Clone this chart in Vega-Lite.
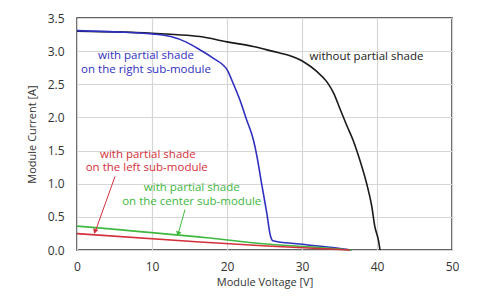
{
  "$schema": "https://vega.github.io/schema/vega-lite/v6.json",
  "width": 375,
  "height": 232,
  "autosize": {"type": "none"},
  "padding": {"left": 77, "top": 18, "right": 41, "bottom": 54},
  "background": "white",
  "config": {
    "view": {"stroke": "#333333", "strokeWidth": 1.5},
    "font": "Open Sans",
    "axis": {
      "grid": true, "gridColor": "#d6d6d6", "gridWidth": 1.2,
      "ticks": false, "tickSize": 0, "domain": false,
      "labelOverlap": false, "labelFlush": false,
      "labelFont": "Open Sans", "labelFontSize": 12, "labelColor": "#333333",
      "titleFont": "Open Sans", "titleFontSize": 11, "titleFontWeight": "normal", "titleColor": "#333333"
    }
  },
  "datasets": {
    "curves": [
      {"series": "none", "v": 0, "i": 3.30},
      {"series": "none", "v": 5, "i": 3.29},
      {"series": "none", "v": 10, "i": 3.27},
      {"series": "none", "v": 13, "i": 3.25},
      {"series": "none", "v": 16.4, "i": 3.22},
      {"series": "none", "v": 20, "i": 3.14},
      {"series": "none", "v": 23.5, "i": 3.07},
      {"series": "none", "v": 26, "i": 3.0},
      {"series": "none", "v": 28.4, "i": 2.93},
      {"series": "none", "v": 30.2, "i": 2.84},
      {"series": "none", "v": 32.0, "i": 2.69},
      {"series": "none", "v": 33.3, "i": 2.54},
      {"series": "none", "v": 34.2, "i": 2.37},
      {"series": "none", "v": 35.1, "i": 2.12},
      {"series": "none", "v": 36.0, "i": 1.87},
      {"series": "none", "v": 36.8, "i": 1.66},
      {"series": "none", "v": 37.7, "i": 1.36},
      {"series": "none", "v": 38.6, "i": 1.01},
      {"series": "none", "v": 39.3, "i": 0.66},
      {"series": "none", "v": 39.7, "i": 0.36},
      {"series": "none", "v": 40.2, "i": 0.14},
      {"series": "none", "v": 40.4, "i": 0},
      {"series": "right", "v": 0, "i": 3.31},
      {"series": "right", "v": 5, "i": 3.29},
      {"series": "right", "v": 10, "i": 3.26},
      {"series": "right", "v": 12.5, "i": 3.22},
      {"series": "right", "v": 14.5, "i": 3.14},
      {"series": "right", "v": 16.4, "i": 3.02},
      {"series": "right", "v": 18.2, "i": 2.89},
      {"series": "right", "v": 20.0, "i": 2.72},
      {"series": "right", "v": 20.8, "i": 2.52},
      {"series": "right", "v": 21.7, "i": 2.27},
      {"series": "right", "v": 22.6, "i": 1.97},
      {"series": "right", "v": 23.5, "i": 1.67},
      {"series": "right", "v": 24.0, "i": 1.41},
      {"series": "right", "v": 24.6, "i": 1.01},
      {"series": "right", "v": 25.3, "i": 0.56},
      {"series": "right", "v": 25.8, "i": 0.21},
      {"series": "right", "v": 26.1, "i": 0.14},
      {"series": "right", "v": 29.7, "i": 0.09},
      {"series": "right", "v": 34.1, "i": 0.036},
      {"series": "right", "v": 36.6, "i": 0},
      {"series": "center", "v": 0, "i": 0.36},
      {"series": "center", "v": 17.7, "i": 0.18},
      {"series": "center", "v": 25.3, "i": 0.09},
      {"series": "center", "v": 32, "i": 0.04},
      {"series": "center", "v": 36.6, "i": 0},
      {"series": "left", "v": 0, "i": 0.247},
      {"series": "left", "v": 16.4, "i": 0.12},
      {"series": "left", "v": 25.3, "i": 0.06},
      {"series": "left", "v": 36.4, "i": 0}
    ],
    "labels": [
      {"series": "right", "v": 9.2, "i": 2.93, "text": "with partial shade"},
      {"series": "right", "v": 9.2, "i": 2.72, "text": "on the right sub-module"},
      {"series": "none", "v": 38.6, "i": 2.91, "text": "without partial shade"},
      {"series": "left", "v": 9.45, "i": 1.44, "text": "with partial shade"},
      {"series": "left", "v": 9.3, "i": 1.23, "text": "on the left sub-module"},
      {"series": "center", "v": 15.3, "i": 0.93, "text": "with partial shade"},
      {"series": "center", "v": 15.3, "i": 0.72, "text": "on the center sub-module"}
    ],
    "arrows": [
      {"series": "left", "v": 5.07, "i": 1.11, "v2": 2.5, "i2": 0.3},
      {"series": "center", "v": 14.4, "i": 0.61, "v2": 13.55, "i2": 0.27}
    ],
    "heads": [
      {"series": "left", "v": 2.4, "i": 0.28},
      {"series": "center", "v": 13.48, "i": 0.245}
    ]
  },
  "layer": [
    {
      "data": {"name": "curves"},
      "mark": {"type": "line", "strokeWidth": 1.6, "interpolate": "monotone"},
      "encoding": {
        "x": {"field": "v", "type": "quantitative", "scale": {"domain": [0, 50], "nice": false}, "axis": {"values": [0, 10, 20, 30, 40, 50], "tickCount": 12, "title": "Module Voltage [V]", "labelPadding": 11, "titlePadding": 4}},
        "y": {"field": "i", "type": "quantitative", "scale": {"domain": [0, 3.5], "nice": false}, "axis": {"values": [0, 0.5, 1, 1.5, 2, 2.5, 3, 3.5], "tickCount": 16, "format": ".1f", "title": "Module Current [A]", "labelPadding": 13, "titlePadding": 10}},
        "color": {"field": "series", "type": "nominal", "scale": {"domain": ["none", "right", "left", "center"], "range": ["#1a1a1a", "#3030c0", "#d4303c", "#40b840"]}, "legend": null},
        "detail": {"field": "series"}
      }
    },
    {
      "data": {"name": "labels"},
      "mark": {"type": "text", "fontSize": 11.5, "font": "Open Sans", "baseline": "middle", "align": "center"},
      "encoding": {
        "x": {"field": "v", "type": "quantitative"},
        "y": {"field": "i", "type": "quantitative"},
        "text": {"field": "text"},
        "color": {"field": "series", "type": "nominal"}
      }
    },
    {
      "data": {"name": "arrows"},
      "mark": {"type": "rule", "strokeWidth": 1},
      "encoding": {
        "x": {"field": "v", "type": "quantitative"},
        "y": {"field": "i", "type": "quantitative"},
        "x2": {"field": "v2"},
        "y2": {"field": "i2"},
        "color": {"field": "series", "type": "nominal"}
      }
    },
    {
      "data": {"name": "heads"},
      "transform": [{"filter": "datum.series == 'left'"}],
      "mark": {"type": "point", "shape": "triangle-up", "filled": true, "size": 30, "angle": 199, "opacity": 1},
      "encoding": {
        "x": {"field": "v", "type": "quantitative"},
        "y": {"field": "i", "type": "quantitative"},
        "color": {"field": "series", "type": "nominal"}
      }
    },
    {
      "data": {"name": "heads"},
      "transform": [{"filter": "datum.series == 'center'"}],
      "mark": {"type": "point", "shape": "triangle-up", "filled": true, "size": 30, "angle": 196, "opacity": 1},
      "encoding": {
        "x": {"field": "v", "type": "quantitative"},
        "y": {"field": "i", "type": "quantitative"},
        "color": {"field": "series", "type": "nominal"}
      }
    }
  ]
}
